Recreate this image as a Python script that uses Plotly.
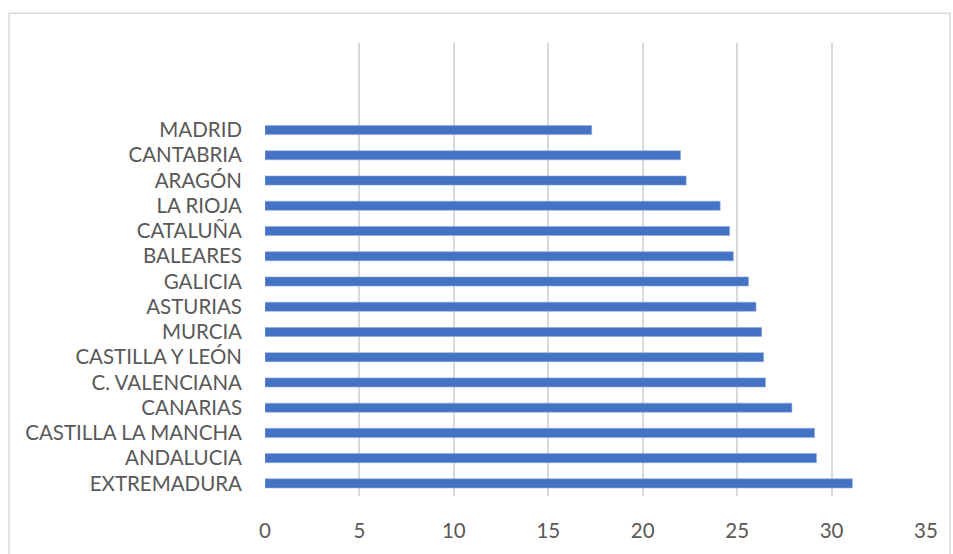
import plotly.graph_objects as go

# Regions, listed bottom-to-top as they appear on the chart
regions = [
    "EXTREMADURA", "ANDALUCIA", "CASTILLA LA MANCHA", "CANARIAS",
    "C. VALENCIANA", "CASTILLA Y LEÓN", "MURCIA", "ASTURIAS", "GALICIA",
    "BALEARES", "CATALUÑA", "LA RIOJA", "ARAGÓN", "CANTABRIA", "MADRID",
]
values = [31.1, 29.2, 29.1, 27.9, 26.5, 26.4, 26.3, 26.0, 25.6,
          24.8, 24.6, 24.1, 22.3, 22.0, 17.3]
x_ticks = [0, 5, 10, 15, 20, 25, 30, 35]

TEXT = "#595959"
GRID = "#D9D9D9"
FONT = "Lato, 'Liberation Sans', Arial, sans-serif"

fig = go.Figure(
    go.Bar(
        x=values,
        y=regions,
        orientation="h",
        width=0.36,
        marker=dict(color="#4472C4", line=dict(color="#8FAADC", width=0.6)),
        hoverinfo="x+y",
    )
)

W, H = 953, 554
ml, mr, mt, mb = 265, 27, 43, 56

fig.update_layout(
    width=W,
    height=H,
    margin=dict(l=ml, r=mr, t=mt, b=mb, pad=0),
    paper_bgcolor="white",
    plot_bgcolor="white",
    showlegend=False,
    font=dict(family=FONT, size=20.5, color=TEXT),
    xaxis=dict(
        range=[0, 35],
        tickvals=x_ticks,
        ticktext=[str(v) for v in x_ticks],
        showgrid=True,
        gridcolor=GRID,
        gridwidth=1.5,
        zeroline=False,
        showline=False,
        ticks="",
        ticklabelstandoff=20,
        tickfont=dict(family=FONT, size=20.5, color=TEXT),
        fixedrange=True,
    ),
    yaxis=dict(
        type="category",
        categoryorder="array",
        categoryarray=regions,
        range=[-0.5, 17.45],
        showgrid=False,
        zeroline=False,
        showline=False,
        ticks="",
        ticklabelstandoff=22,
        tickfont=dict(family=FONT, size=20.5, color=TEXT),
        fixedrange=True,
    ),
)

# Light chart-area frame running off the bottom of the page
pw = W - ml - mr
ph = H - mt - mb
def px_to_paper_x(px):
    return (px - ml) / pw
def px_to_paper_y(py):
    return (H - mb - py) / ph

fig.add_shape(
    type="rect",
    xref="paper", yref="paper",
    x0=px_to_paper_x(9), x1=px_to_paper_x(950),
    y0=px_to_paper_y(580), y1=px_to_paper_y(13),
    line=dict(color="#D9D9D9", width=1.5),
    fillcolor="rgba(0,0,0,0)",
    layer="below",
)

fig.write_html("out.html")
